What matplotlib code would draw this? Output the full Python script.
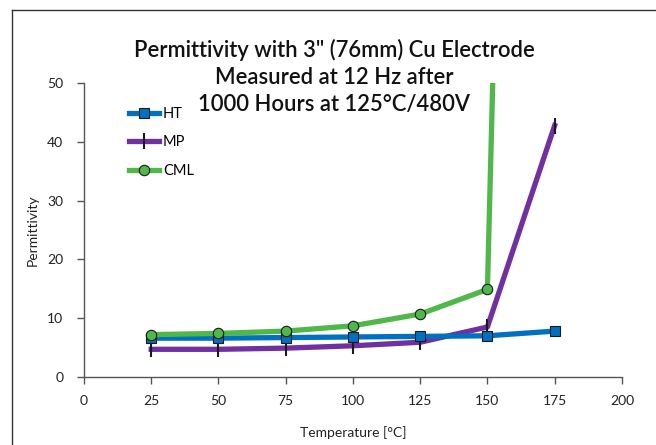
import matplotlib.pyplot as plt
import numpy as np
from matplotlib.lines import Line2D

plt.rcParams['font.family'] = ['Lato', 'DejaVu Sans']

temps = [25, 50, 75, 100, 125, 150, 175]
ht = [6.6, 6.6, 6.7, 6.8, 6.9, 7.0, 7.8]
mp = [4.7, 4.7, 4.9, 5.3, 5.9, 8.5, 42.8]
cml = [7.2, 7.4, 7.8, 8.7, 10.7, 14.9, 460]

xticks = [0, 25, 50, 75, 100, 125, 150, 175, 200]
yticks = [0, 10, 20, 30, 40, 50]
title_lines = ['Permittivity with 3" (76mm) Cu Electrode',
               'Measured at 12 Hz after',
               '1000 Hours at 125°C/480V']

blue = '#0070c0'
purple = '#7030a0'
green = '#50b848'

fig = plt.figure(figsize=(6.56, 4.45), dpi=100)
ax = fig.add_axes([0.128, 0.153, 0.82, 0.660])

# outer frame
fig.add_artist(Line2D([12/656, 12/656], [0, 1-10/445], color='#333333', lw=1.0))
fig.add_artist(Line2D([12/656, 1], [1-10/445, 1-10/445], color='#333333', lw=1.0))

ax.plot(temps, ht, color=blue, lw=3.8, marker='s', ms=7.5,
        mfc=blue, mec='#1a1a1a', mew=0.8, label='HT', zorder=3)
ax.plot(temps, mp, color=purple, lw=3.8, marker='|', ms=11,
        mec='#1a1a1a', mew=1.5, label='MP', zorder=2)
ax.plot(temps, cml, color=green, lw=3.8, marker='o', ms=7.5,
        mfc=green, mec='#1a1a1a', mew=0.8, label='CML', zorder=4)

ax.set_xlim(0, 200)
ax.set_ylim(0, 50)
ax.set_xticks(xticks)
ax.set_yticks(yticks)
for s in ['top', 'right']:
    ax.spines[s].set_visible(False)
for s in ['left', 'bottom']:
    ax.spines[s].set_color('#555555')
    ax.spines[s].set_linewidth(1.0)
ax.tick_params(axis='both', direction='out', length=5, width=1.0,
               color='#555555', labelsize=10, labelcolor='#222222')
ax.tick_params(axis='x', pad=8)
ax.tick_params(axis='y', pad=10)
ax.set_xlabel('Temperature [°C]', fontsize=10, color='#222222', labelpad=14)
ax.set_ylabel('Permittivity', fontsize=10, color='#222222', labelpad=6)

leg = ax.legend(loc='upper left', bbox_to_anchor=(0.06, 0.965), frameon=False,
                fontsize=10.5, handlelength=2.0, labelspacing=1.0,
                handletextpad=0.3)

# title drawn line by line so each line keeps its own box
for i, line in enumerate(title_lines):
    fig.text(0.509, 1 - (50 + 27.5 * i) / 445, line,
             ha='center', va='center', fontsize=15.8, fontweight='semibold',
             color='#111111')

plt.savefig('out.png', dpi=100)
